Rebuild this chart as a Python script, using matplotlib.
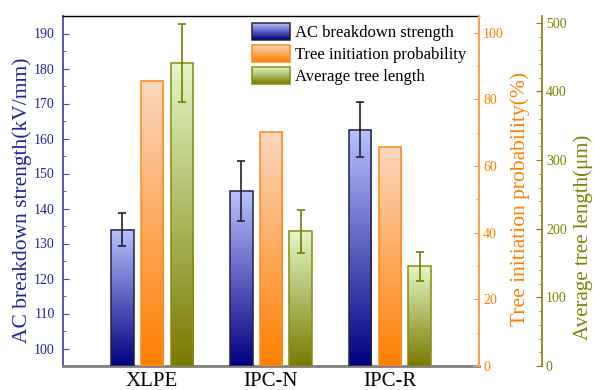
import numpy as np
import matplotlib
matplotlib.use("Agg")
import matplotlib.pyplot as plt
from matplotlib.colors import LinearSegmentedColormap
from matplotlib.legend_handler import HandlerBase
from matplotlib.patches import Rectangle, Patch
from matplotlib.ticker import MultipleLocator

plt.rcParams['font.family'] = ['Liberation Serif', 'DejaVu Serif']

materials = ['XLPE', 'IPC-N', 'IPC-R']
ac_strength = [134.0, 145.0, 162.5]
ac_err = [4.6, 8.7, 7.9]
tree_prob = [85.6, 70.3, 65.6]
tree_len = [442, 196, 145]
tree_len_err = [57, 31, 21]

BLUE = ('#000080', '#b8c2ff', '#222244')
ORANGE = ('#ff7f00', '#fbd7bf', '#ff8a1a')
OLIVE = ('#7a7a00', '#e2f8c6', '#8a8a10')


def gradient_bars(ax, xs, heights, base, width, colors):
    c0, c1, ec = colors
    cmap = LinearSegmentedColormap.from_list('g', [c0, c1])
    grad = np.linspace(0, 1, 256).reshape(-1, 1)
    for x, h in zip(xs, heights):
        ax.imshow(grad, cmap=cmap, origin='lower', aspect='auto',
                  extent=(x - width / 2, x + width / 2, base, h), zorder=2)
    ax.bar(xs, np.array(heights) - base, width, bottom=base, facecolor='none',
           edgecolor=ec, linewidth=1.1, zorder=3)


class GradHandler(HandlerBase):
    def __init__(self, colors, n=30):
        super().__init__()
        self.colors = colors
        self.n = n

    def create_artists(self, legend, orig_handle, xdescent, ydescent,
                       width, height, fontsize, trans):
        c0, c1, ec = self.colors
        cmap = LinearSegmentedColormap.from_list('g', [c0, c1])
        x0, y0 = -xdescent, -ydescent
        arts = []
        for i in range(self.n):
            arts.append(Rectangle((x0, y0 + height * i / self.n), width,
                                  height / self.n * 1.05,
                                  facecolor=cmap((i + 0.5) / self.n),
                                  edgecolor='none', transform=trans))
        arts.append(Rectangle((x0, y0), width, height, facecolor='none',
                              edgecolor=ec, linewidth=1.1, transform=trans))
        return arts


fig = plt.figure(figsize=(5.94, 3.90), dpi=100)
ax = fig.add_axes([63 / 594, 1 - 366 / 390, 416 / 594, 350 / 390])
ax2 = ax.twinx()
ax3 = ax.twinx()

x = np.arange(len(materials)) + 1
off = 0.25
w = 0.19
ylo = 95

gradient_bars(ax, x - off, ac_strength, ylo, w, BLUE)
ax.errorbar(x - off, ac_strength, yerr=ac_err, fmt='none', ecolor='#222222',
            elinewidth=1.2, capsize=3, capthick=1.2, zorder=4)
gradient_bars(ax2, x, tree_prob, 0, w, ORANGE)
gradient_bars(ax3, x + off, tree_len, 0, w, OLIVE)
ax3.errorbar(x + off, tree_len, yerr=tree_len_err, fmt='none', ecolor='#7a7a00',
             elinewidth=1.2, capsize=3, capthick=1.2, zorder=4)

ax.set_xlim(0.25, 3.75)
ax.set_ylim(ylo, 195)
ax2.set_ylim(0, 105)
ax3.set_ylim(0, 510)

ax.set_xticks(x)
ax.set_xticklabels(materials, fontsize=15)
ax.tick_params(axis='x', length=0, pad=4)

lblue = '#2222a0'
ax.yaxis.set_minor_locator(MultipleLocator(5))
ax.set_yticks(np.arange(100, 191, 10))
ax.tick_params(axis='y', which='both', direction='in', colors='#4848b8',
               labelcolor=lblue, labelsize=10, pad=6)
ax.tick_params(axis='y', which='major', length=4)
ax.tick_params(axis='y', which='minor', length=2.5)
ax.set_ylabel('AC breakdown strength(kV/mm)', fontsize=15.5, color=lblue)
ax.yaxis.set_label_coords(-0.075, 0.474)

ax2.yaxis.set_minor_locator(MultipleLocator(10))
ax2.set_yticks(np.arange(0, 101, 20))
ax2.tick_params(axis='y', which='both', direction='in', colors='#ffa050',
                labelcolor='#ff8000', labelsize=10, pad=3)
ax2.tick_params(axis='y', which='major', length=4)
ax2.tick_params(axis='y', which='minor', length=2.5)
ax2.set_ylabel('Tree initiation probability(%)', fontsize=15.5, color='#ff8000')
ax2.yaxis.set_label_coords(1.0745, 0.476)

ax3.spines['right'].set_position(('axes', 1.151))
ax3.yaxis.set_minor_locator(MultipleLocator(20))
ax3.set_yticks(np.arange(0, 501, 100))
ax3.tick_params(axis='y', which='both', direction='in', colors='#808000',
                labelcolor='#808000', labelsize=10, pad=3)
ax3.tick_params(axis='y', which='major', length=4)
ax3.tick_params(axis='y', which='minor', length=2.5)
ax3.set_ylabel('Average tree length(μm)', fontsize=15, color='#808000')
ax3.yaxis.set_label_coords(1.226, 0.367)

for a in (ax, ax2, ax3):
    for s in a.spines.values():
        s.set_visible(False)
ax.spines['left'].set_visible(True)
ax.spines['left'].set_color('#4848b8')
ax.spines['left'].set_linewidth(1.3)
ax.spines['top'].set_visible(True)
ax.spines['top'].set_color('black')
ax.spines['top'].set_linewidth(1.0)
ax.spines['bottom'].set_visible(True)
ax.spines['bottom'].set_color('#808080')
ax.spines['bottom'].set_linewidth(2.0)
ax2.spines['right'].set_visible(True)
ax2.spines['right'].set_color('#ffa050')
ax2.spines['right'].set_linewidth(1.5)
ax3.spines['right'].set_visible(True)
ax3.spines['right'].set_color('#808000')
ax3.spines['right'].set_linewidth(1.2)

labels = ['AC breakdown strength', 'Tree initiation probability', 'Average tree length']
proxies = [Patch(), Patch(), Patch()]
hmap = {p: GradHandler(c) for p, c in zip(proxies, (BLUE, ORANGE, OLIVE))}
ax3.legend(proxies, labels, handler_map=hmap, loc='upper left',
           bbox_to_anchor=(252 / 594, 1 - 23 / 390), bbox_transform=fig.transFigure,
           frameon=False, fontsize=12, handlelength=2.3, handleheight=1.15,
           handletextpad=0.3, labelspacing=0.25, borderpad=0, borderaxespad=0)

fig.savefig('out.png', dpi=100)
